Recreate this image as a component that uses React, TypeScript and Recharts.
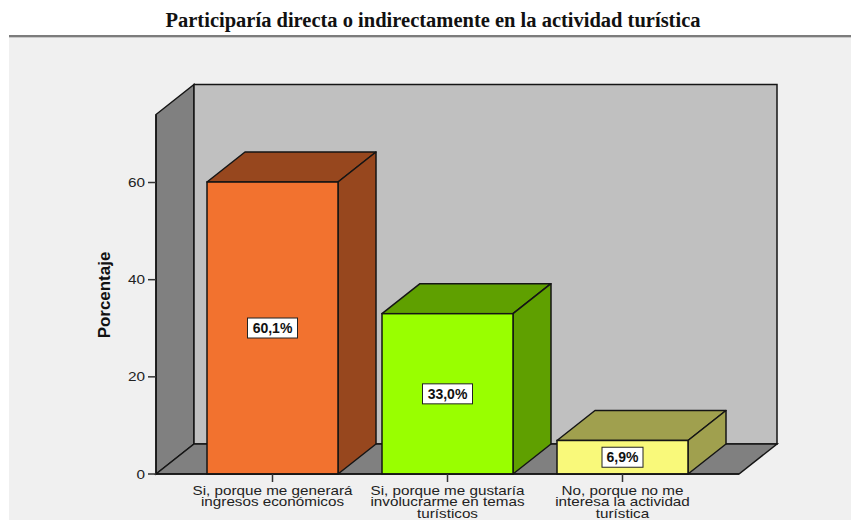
import { Bar, BarChart, ReferenceArea, XAxis, YAxis } from 'recharts';

const TITLE = 'Participaría directa o indirectamente en la actividad turística';
const CATEGORIES = [
  'Si, porque me generará\ningresos económicos',
  'Si, porque me gustaría\ninvolucrarme en temas\nturísticos',
  'No, porque no me\ninteresa la actividad\nturística',
];
const VALUES = [60.1, 33.0, 6.9];
const Y_TICKS = [0, 20, 40, 60];
const Y_MAX = 74;
const Y_LABEL = 'Porcentaje';

// face colours per bar: front, then top/side
const FRONT = ['#f2722f', '#99ff00', '#f9f97a'];
const SHADE = ['#97471e', '#5fa000', '#a0a04e'];
const DX = 38;
const DY = 30;
const PAD = 29;
const EDGE = '#151515';

const data = CATEGORIES.map((name, i) => ({ name, value: VALUES[i] }));

const fmt = (v: number) => v.toFixed(1).replace('.', ',') + '%';

// reference area spans the padded x range, so widen it back to the plot edges
function Walls(props: any) {
  const x = props.x - PAD;
  const width = props.width + 2 * PAD;
  const { y, height } = props;
  const b = y + height;
  return (
    <g>
      <polygon
        points={`${x},${b} ${x},${y} ${x + DX},${y - DY} ${x + DX},${b - DY}`}
        fill="#808080"
        stroke={EDGE}
        strokeWidth={1.5}
      />
      <rect x={x + DX} y={y - DY} width={width} height={height} fill="#c0c0c0" stroke={EDGE} strokeWidth={1.5} />
      <polygon
        points={`${x},${b} ${x + DX},${b - DY} ${x + DX + width},${b - DY} ${x + width},${b}`}
        fill="#808080"
        stroke={EDGE}
        strokeWidth={1.5}
      />
    </g>
  );
}

function Bar3D(props: any) {
  const { x, y, width: w, height: h, index, payload } = props;
  const label = fmt(payload.value);
  const bw = label.length * 9 + 5;
  const cx = x + w / 2;
  const cy = y + h / 2;
  return (
    <g>
      <polygon
        points={`${x},${y} ${x + DX},${y - DY} ${x + w + DX},${y - DY} ${x + w},${y}`}
        fill={SHADE[index]}
        stroke={EDGE}
        strokeWidth={1.5}
        strokeLinejoin="round"
      />
      <polygon
        points={`${x + w},${y} ${x + w + DX},${y - DY} ${x + w + DX},${y + h - DY} ${x + w},${y + h}`}
        fill={SHADE[index]}
        stroke={EDGE}
        strokeWidth={1.5}
        strokeLinejoin="round"
      />
      <rect x={x} y={y} width={w} height={h} fill={FRONT[index]} stroke={EDGE} strokeWidth={1.5} />
      <rect x={cx - bw / 2} y={cy - 10} width={bw} height={20} fill="#fff" stroke="#222" strokeWidth={1} />
      <text
        x={cx}
        y={cy}
        textAnchor="middle"
        dominantBaseline="central"
        fontFamily="'Liberation Sans', Arial, sans-serif"
        fontWeight="bold"
        fontSize={14}
        fill="#111"
      >
        {label}
      </text>
    </g>
  );
}

function YTick(props: any) {
  const { x, y, payload } = props;
  return (
    <text
      transform={`translate(${x - 1},${y}) scale(1.18,1)`}
      textAnchor="end"
      dominantBaseline="central"
      fontFamily="'Liberation Sans', Arial, sans-serif"
      fontSize={13}
      fill="#222"
    >
      {payload.value}
    </text>
  );
}

function XTick(props: any) {
  const { x, y, payload } = props;
  const lines = String(payload.value).split('\n');
  return (
    <g transform={`translate(${x},${y}) scale(1.27,1)`}>
      {lines.map((ln, i) => (
        <text
          key={i}
          x={0}
          y={11 + i * 11.5}
          textAnchor="middle"
          fontFamily="'Liberation Sans', Arial, sans-serif"
          fontSize={12}
          fill="#222"
        >
          {ln}
        </text>
      ))}
    </g>
  );
}

function YLabel() {
  return (
    <text
      transform="translate(104,295) rotate(-90) scale(1.06,1)"
      textAnchor="middle"
      dominantBaseline="central"
      fontFamily="'Liberation Sans', Arial, sans-serif"
      fontWeight="bold"
      fontSize={16}
      fill="#111"
    >
      {Y_LABEL}
    </text>
  );
}

export default function App() {
  return (
    <div style={{ position: 'absolute', left: 0, top: 0, width: 851, height: 520, background: '#fff', overflow: 'hidden' }}>
      <div style={{ position: 'absolute', left: 9, top: 35, width: 842, height: 485, background: '#f0f0f0' }} />
      <div style={{ position: 'absolute', left: 9, top: 35, width: 842, height: 2, background: '#7c7c7c' }} />
      <div style={{ position: 'absolute', left: 9, top: 37, width: 842, height: 1, background: '#c8c8c8' }} />
      <div
        style={{
          position: 'absolute',
          left: 0,
          top: 8,
          width: 866,
          textAlign: 'center',
          fontFamily: "'Liberation Serif', 'Times New Roman', serif",
          fontWeight: 'bold',
          fontSize: 20.5,
          lineHeight: '24px',
          color: '#111',
        }}
      >
        {TITLE}
      </div>
      <div style={{ position: 'absolute', left: 0, top: 0 }}>
        <BarChart width={851} height={520} data={data} margin={{ top: 114.5, right: 112, bottom: 0, left: 0 }}>
          <XAxis
            dataKey="name"
            height={46}
            padding={{ left: PAD, right: PAD }}
            interval={0}
            tickSize={8}
            axisLine={{ stroke: EDGE, strokeWidth: 1.5 }}
            tickLine={{ stroke: '#333', strokeWidth: 1.5 }}
            tick={<XTick />}
          />
          <YAxis
            width={156}
            domain={[0, Y_MAX]}
            ticks={Y_TICKS}
            tickSize={8}
            axisLine={{ stroke: EDGE, strokeWidth: 1.5 }}
            tickLine={{ stroke: '#333', strokeWidth: 1.5 }}
            tick={<YTick />}
            label={<YLabel />}
          />
          <ReferenceArea y1={0} y2={Y_MAX} shape={<Walls />} zIndex={-60} ifOverflow="visible" />
          <Bar dataKey="value" barSize={131} shape={<Bar3D />} isAnimationActive={false} />
        </BarChart>
      </div>
    </div>
  );
}
